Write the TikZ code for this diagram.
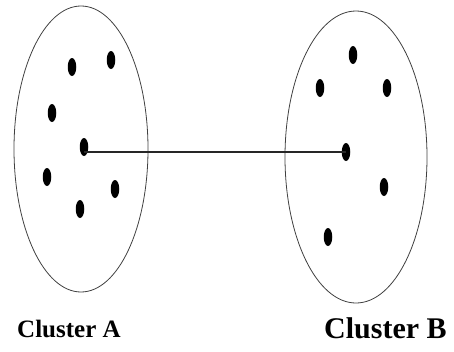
\documentclass[tikz,border=0pt]{standalone}
\usepackage{fontspec}
\setmainfont{Liberation Serif}
\usetikzlibrary{shapes.geometric}

\tikzset{
  pt/.style={ellipse,fill=black,inner sep=0pt,minimum width=8.5pt,minimum height=18pt},
  hull/.style={line width=0.8pt,black!75},
  link/.style={line width=1.6pt,black!85}
}

\begin{document}
\begin{tikzpicture}[x=1pt,y=-1pt]
  \useasboundingbox (0,0) rectangle (454,351);

  % Cluster A
  \draw[hull] (81,149) ellipse [x radius=67pt, y radius=143pt];
  \node[pt] (a1) at (72,67) {};
  \node[pt] (a2) at (111,60) {};
  \node[pt] (a3) at (52,113) {};
  \node[pt] (a4) at (84,147) {};
  \node[pt] (a5) at (47,177) {};
  \node[pt] (a6) at (115,189) {};
  \node[pt] (a7) at (80,209) {};

  % Cluster B
  \draw[hull] (356,157) ellipse [x radius=71pt, y radius=146pt];
  \node[pt] (b1) at (353,55) {};
  \node[pt] (b2) at (320,88) {};
  \node[pt] (b3) at (387,88) {};
  \node[pt] (b4) at (346,152) {};
  \node[pt] (b5) at (384,187) {};
  \node[pt] (b6) at (328,237) {};

  % distance between the two clusters
  \draw[link] (a4.center |- b4.center) -- (b4.center);

  \node[anchor=base west,font=\fontsize{25}{30}\selectfont\bfseries,inner sep=0pt] (labA) at (17,337) {Cluster A};
  \node[anchor=base west,font=\fontsize{30}{36}\selectfont\bfseries,inner sep=0pt] (labB) at (324,338) {Cluster B};
\end{tikzpicture}
\end{document}
